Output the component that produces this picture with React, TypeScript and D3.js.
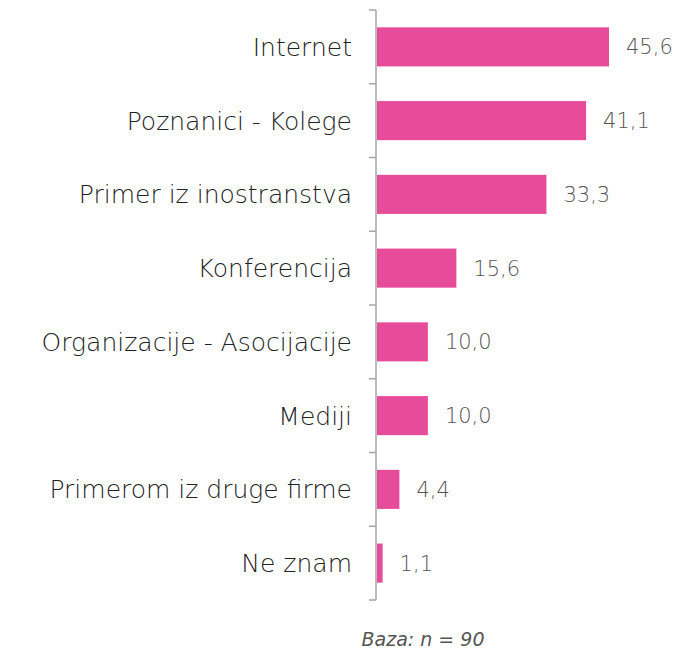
import React from "react";
import * as d3 from "d3";

const categories = [
  "Internet",
  "Poznanici - Kolege",
  "Primer iz inostranstva",
  "Konferencija",
  "Organizacije - Asocijacije",
  "Mediji",
  "Primerom iz druge firme",
  "Ne znam",
];
const values = [45.6, 41.1, 33.3, 15.6, 10.0, 10.0, 4.4, 1.1];
const note = "Baza: n = 90";

export default function App() {
  const W = 679, H = 650;
  const x0 = 376, top = 10, bottom = 600;
  const x = d3.scaleLinear().domain([0, 45.6]).range([x0 + 1, 609]);
  const y = d3.scaleBand<string>().domain(categories).range([top, bottom]).paddingInner(0.47).paddingOuter(0.235);
  const band = (bottom - top) / categories.length;
  const fmt = (v: number) => v.toFixed(1).replace(".", ",");
  const font = "'DejaVu Sans', sans-serif";
  return (
    <svg width={W} height={H} style={{ position: "absolute", left: 0, top: 0 }}>
      <rect width={W} height={H} fill="#fff" />
      {categories.map((c, i) => (
        <g key={c}>
          <rect x={x(0)} y={y(c)} width={x(values[i]) - x(0)} height={y.bandwidth()} fill="#E64C9A" />
          <text x={352} y={(y(c) as number) + y.bandwidth() / 2} dy="0.36em" textAnchor="end" fontFamily={font} fontSize={25} fontWeight={300} fill="#222222">{c}</text>
          <text x={x(values[i]) + 17} y={(y(c) as number) + y.bandwidth() / 2} dy="0.36em" textAnchor="start" fontFamily={font} fontSize={21} fontWeight={300} fill="#555555">{fmt(values[i])}</text>
        </g>
      ))}
      <line x1={x0} x2={x0} y1={top} y2={bottom} stroke="#a6a6a6" strokeWidth={1.5} />
      {d3.range(categories.length + 1).map((i) => (
        <line key={i} x1={x0 - 7} x2={x0} y1={top + i * band} y2={top + i * band} stroke="#a6a6a6" strokeWidth={1.5} />
      ))}
      <text x={423} y={646} textAnchor="middle" fontFamily={font} fontSize={19} fontStyle="italic" fontWeight={300} fill="#555555">{note}</text>
    </svg>
  );
}
